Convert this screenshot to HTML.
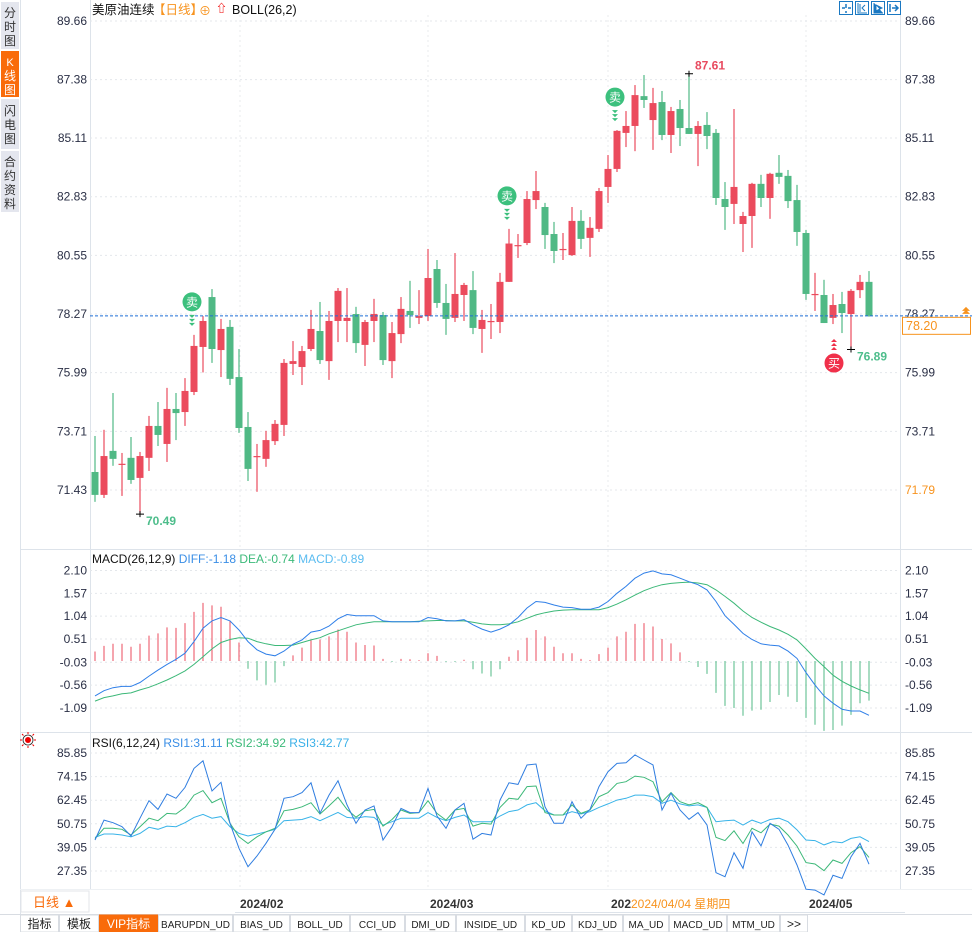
<!DOCTYPE html>
<html><head><meta charset="utf-8"><style>
html,body{margin:0;padding:0;background:#fff;}
body{width:972px;height:932px;overflow:hidden;position:relative;font-family:"Liberation Sans","Noto Sans CJK SC",sans-serif;}
svg{position:absolute;left:0;top:0;}
svg text{font-family:"Liberation Sans","Noto Sans CJK SC",sans-serif;}
</style></head><body>
<svg id="chart" width="972" height="932" viewBox="0 0 972 932">
<g id="frame">
 <rect x="0" y="0" width="20" height="932" fill="#fff"/>
 <line x1="20.5" y1="0" x2="20.5" y2="914" stroke="#dde3ea"/>
 <line x1="90.5" y1="0" x2="90.5" y2="890" stroke="#dde3ea"/>
 <line x1="900.5" y1="0" x2="900.5" y2="890" stroke="#dde3ea"/>
 <line x1="20" y1="549.5" x2="972" y2="549.5" stroke="#dde3ea"/>
 <line x1="20" y1="732.5" x2="972" y2="732.5" stroke="#dde3ea"/>
 <line x1="20" y1="889.5" x2="972" y2="889.5" stroke="#eef1f4"/>
 <line x1="235" y1="912.5" x2="905" y2="912.5" stroke="#dde3ea"/>
</g>
<g id="sidebar">
 <rect x="1" y="2" width="18" height="47" fill="#e4e6ee"/>
 <text x="10" y="17" font-size="12" fill="#333" text-anchor="middle">分</text>
 <text x="10" y="31" font-size="12" fill="#333" text-anchor="middle">时</text>
 <text x="10" y="45" font-size="12" fill="#333" text-anchor="middle">图</text>
 <rect x="1" y="51" width="18" height="46" fill="#f96b0a"/>
 <text x="10" y="66" font-size="11" fill="#fff" text-anchor="middle">K</text>
 <text x="10" y="80" font-size="12" fill="#fff" text-anchor="middle">线</text>
 <text x="10" y="94" font-size="12" fill="#fff" text-anchor="middle">图</text>
 <rect x="1" y="99" width="18" height="50" fill="#e4e6ee"/>
 <text x="10" y="115" font-size="12" fill="#333" text-anchor="middle">闪</text>
 <text x="10" y="129" font-size="12" fill="#333" text-anchor="middle">电</text>
 <text x="10" y="143" font-size="12" fill="#333" text-anchor="middle">图</text>
 <rect x="1" y="151" width="18" height="61" fill="#e4e6ee"/>
 <text x="10" y="166" font-size="12" fill="#333" text-anchor="middle">合</text>
 <text x="10" y="180" font-size="12" fill="#333" text-anchor="middle">约</text>
 <text x="10" y="194" font-size="12" fill="#333" text-anchor="middle">资</text>
 <text x="10" y="208" font-size="12" fill="#333" text-anchor="middle">料</text>
</g>
<g id="header">
 <text x="92" y="14" font-size="12.5" fill="#111">美原油连续</text>
 <text x="153" y="14" font-size="12.5" fill="#f7931e">【日线】</text>
 <text x="199" y="15" font-size="12" fill="#f7931e">⊕</text>
 <text x="216" y="12" font-size="11" fill="#e00" font-weight="bold">⇧</text>
 <text x="232" y="14" font-size="12.5" fill="#111">BOLL(26,2)</text>
</g>
<g id="toolbar">
 <rect x="839.5" y="1.5" width="13" height="13" fill="none" stroke="#1a78c2"/>
 <path d="M846 4v4M846 11v2M842 8h3M848 8h3" stroke="#1a78c2" stroke-width="1.5"/>
 <rect x="855.5" y="1.5" width="13" height="13" fill="none" stroke="#1a78c2"/>
 <path d="M858 3v10h9M860 4v8M865 5l-3 3 3 3" stroke="#1a78c2" fill="none"/>
 <rect x="871.5" y="1.5" width="13" height="13" fill="none" stroke="#1a78c2"/>
 <path d="M874 3v10h9M876 5l6 3-6 3z" stroke="#1a78c2" fill="#1a78c2"/>
 <rect x="887.5" y="1.5" width="13" height="13" fill="none" stroke="#1a78c2"/>
 <path d="M890 4v8M892 8h5M895 5l3 3-3 3" stroke="#1a78c2" fill="none" stroke-width="1.5"/>
</g>
<g id="grid"></g>
<g id="axes"></g>
<g id="candles"></g>
<g id="annot"></g>
<g id="macd"></g>
<g id="rsi"></g>
<g id="labels">
 <text x="92" y="563" font-size="12"><tspan fill="#111">MACD(26,12,9) </tspan><tspan fill="#3a8ee6">DIFF:-1.18 </tspan><tspan fill="#3cba7a"> DEA:-0.74 </tspan><tspan fill="#5bbcf0"> MACD:-0.89</tspan></text>
 <text x="92" y="747" font-size="12"><tspan fill="#111">RSI(6,12,24) </tspan><tspan fill="#3a8ee6">RSI1:31.11 </tspan><tspan fill="#3cba7a"> RSI2:34.92 </tspan><tspan fill="#3ab0e8"> RSI3:42.77</tspan></text>
 <g>
  <circle cx="28" cy="740" r="3" fill="#e00"/>
  <circle cx="28" cy="740" r="5" fill="none" stroke="#222" stroke-width="0.8"/>
  <path d="M28 732v2M28 746v2M20 740h2M34 740h2M22 734l1.5 1.5M34 734l-1.5 1.5M22 746l1.5-1.5M34 746l-1.5-1.5" stroke="#e00"/>
 </g>
</g>
<g id="dates">
 <text x="240" y="908" font-size="12" font-weight="bold" fill="#333">2024/02</text>
 <text x="430" y="908" font-size="12" font-weight="bold" fill="#333">2024/03</text>
 <text x="611" y="908" font-size="12" font-weight="bold" fill="#333">202</text>
 <text x="631" y="908" font-size="12" fill="#f7931e">2024/04/04 星期四</text>
 <text x="809" y="908" font-size="12" font-weight="bold" fill="#333">2024/05</text>
 <rect x="21" y="891" width="68" height="21" fill="#fff" stroke="#e3e6ea"/>
 <text x="33" y="907" font-size="13" fill="#f96b0a">日线 ▲</text>
</g>
<g id="tabs"></g>
</svg>
<script>
// ---------- price data ----------
const opens=[72.13,71.24,72.95,72.45,72.68,71.9,72.68,73.92,73.22,74.58,74.46,75.24,76.99,78.93,76.87,77.77,75.82,73.88,72.75,72.64,73.33,73.96,76.33,76.21,76.91,77.61,76.44,78.0,78.0,78.27,77.07,78.0,78.23,76.44,77.49,78.39,78.12,78.19,80.02,78.7,78.12,79.01,79.2,77.69,78.0,77.96,79.52,80.95,81.03,82.7,82.43,81.38,80.8,80.56,81.89,81.23,81.58,83.21,83.91,85.31,85.58,86.74,85.81,86.51,85.23,86.24,85.5,85.27,85.62,85.31,82.74,82.55,81.77,82.08,83.33,82.78,83.76,83.64,82.7,81.42,79.05,79.01,78.12,78.66,78.27,79.2,79.52];
const closes=[71.24,72.75,72.64,72.45,71.82,72.75,73.92,73.57,74.58,74.42,75.28,77.03,78.0,76.91,77.69,75.75,73.84,72.25,72.75,73.37,74.0,76.37,76.44,76.83,77.69,76.48,78.0,79.17,78.12,77.14,77.96,78.27,76.48,77.53,78.47,78.23,78.19,79.67,78.7,78.08,79.05,79.4,77.73,78.04,78.0,79.52,81.01,80.95,82.74,83.05,81.34,80.72,80.8,81.89,81.19,81.62,83.05,83.91,85.39,85.58,86.78,86.59,86.47,85.23,86.16,85.5,85.27,85.58,85.19,82.78,82.43,83.21,82.08,83.33,82.78,83.72,83.6,82.66,81.46,79.05,79.05,77.92,78.62,78.31,79.17,79.52,78.2];
const highs=[73.53,73.77,75.2,72.87,73.49,72.91,74.31,74.85,75.4,75.2,75.78,77.46,78.19,79.24,78.08,78.04,76.91,74.46,73.22,73.73,74.15,76.52,77.22,77.03,78.43,78.74,78.39,79.28,79.28,78.55,78.04,78.86,78.35,77.96,78.93,79.56,79.2,80.8,80.37,79.44,80.64,79.48,79.94,78.43,78.66,79.87,81.58,81.38,83.05,83.83,82.59,81.85,81.42,82.43,82.31,82.04,83.17,84.45,85.42,86.16,87.17,87.56,87.06,86.94,86.32,86.59,87.61,85.77,86.12,85.46,83.4,86.24,82.24,83.37,83.68,83.76,84.45,83.87,83.29,81.54,79.87,79.6,79.05,79.13,79.24,79.79,79.94];
const lows=[70.97,71.12,72.37,71.2,71.67,70.49,72.17,73.14,72.52,73.37,73.92,75.12,76.0,76.37,75.82,75.51,73.65,71.78,71.36,72.33,73.18,73.53,75.9,75.51,76.83,76.33,75.71,77.18,77.18,76.76,76.25,77.18,76.29,75.78,77.14,77.73,77.88,78.0,78.51,77.46,77.96,78.0,77.49,76.76,77.3,77.53,79.52,80.45,80.95,82.35,80.8,80.25,80.37,80.53,80.8,80.49,81.46,82.59,83.79,84.76,84.6,86.28,84.65,85.03,84.53,84.8,85.27,84.02,84.68,82.51,81.54,81.77,80.68,80.84,82.43,81.97,83.33,82.39,80.92,78.82,78.39,77.92,77.88,77.53,76.89,78.89,78.16];
const priceTicks=["89.66","87.38","85.11","82.83","80.55","78.27","75.99","73.71","71.43"];
const lastPrice=78.20;
const sellSignals=[11,46,58];
const buySignals=[82];
// ---------- MACD data ----------
const diffVals=[-0.81,-0.69,-0.62,-0.59,-0.59,-0.50,-0.35,-0.21,-0.08,0.04,0.18,0.45,0.76,0.93,1.01,0.93,0.72,0.45,0.26,0.16,0.12,0.23,0.39,0.49,0.67,0.71,0.81,0.98,1.08,1.05,1.05,1.05,0.93,0.91,0.91,0.91,0.91,1.01,0.98,0.93,0.93,0.96,0.84,0.74,0.67,0.74,0.84,1.01,1.23,1.38,1.36,1.30,1.25,1.24,1.20,1.20,1.25,1.38,1.57,1.73,1.92,2.04,2.09,2.02,2.00,1.92,1.84,1.77,1.65,1.38,1.05,0.85,0.64,0.50,0.40,0.37,0.35,0.23,0.06,-0.27,-0.56,-0.81,-0.98,-1.12,-1.16,-1.16,-1.26];
const deaVals=[-0.93,-0.85,-0.81,-0.76,-0.74,-0.67,-0.61,-0.53,-0.44,-0.34,-0.23,-0.08,0.10,0.28,0.43,0.50,0.54,0.53,0.45,0.40,0.36,0.36,0.37,0.43,0.49,0.54,0.63,0.70,0.77,0.84,0.88,0.91,0.91,0.91,0.91,0.91,0.92,0.93,0.94,0.94,0.93,0.93,0.90,0.86,0.84,0.84,0.86,0.91,0.99,1.07,1.12,1.16,1.18,1.19,1.19,1.19,1.19,1.24,1.32,1.42,1.53,1.63,1.71,1.77,1.80,1.82,1.83,1.81,1.77,1.65,1.50,1.34,1.16,1.01,0.90,0.80,0.72,0.62,0.49,0.28,0.06,-0.13,-0.33,-0.47,-0.58,-0.67,-0.75];
const histVals=[0.22,0.35,0.40,0.40,0.33,0.40,0.59,0.64,0.78,0.77,0.88,1.14,1.35,1.29,1.26,0.94,0.43,-0.18,-0.45,-0.55,-0.50,-0.12,0.13,0.31,0.48,0.50,0.57,0.73,0.68,0.43,0.37,0.36,0.05,-0.02,0.05,0.04,0.02,0.18,0.12,-0.02,-0.02,0.03,-0.19,-0.29,-0.36,-0.19,0.10,0.25,0.54,0.72,0.57,0.33,0.18,0.18,0.05,0.02,0.16,0.31,0.57,0.68,0.86,0.88,0.80,0.51,0.41,0.20,-0.02,-0.14,-0.30,-0.74,-1.04,-1.09,-1.27,-1.15,-1.13,-0.95,-0.79,-0.83,-0.95,-1.32,-1.48,-1.62,-1.60,-1.50,-1.25,-0.98,-0.92];
const macdTicks=["2.10","1.57","1.04","0.51","-0.03","-0.56","-1.09"];
// ---------- RSI data ----------
const rsi1Vals=[42.7,52.6,51.3,49.3,44.7,53.5,62.2,57.9,65.5,63.4,68.8,78.2,82.0,67.0,71.3,51.0,38.6,29.5,34.8,41.1,48.0,63.4,64.2,66.2,71.1,56.0,65.0,72.1,60.1,51.0,57.6,59.6,42.7,49.3,58.4,56.3,56.3,68.3,54.6,48.5,57.6,60.9,43.1,46.0,45.2,62.5,71.1,70.3,79.9,80.4,59.2,51.0,51.0,61.7,53.5,57.9,69.2,76.6,80.7,81.0,84.9,82.4,79.9,57.6,65.9,57.6,53.0,56.3,50.2,26.5,24.5,36.4,28.7,46.8,39.8,51.0,48.0,40.2,30.3,18.3,17.9,15.5,25.2,23.7,34.4,41.1,30.7];
const rsi2Vals=[43.5,48.5,48.5,48.0,45.2,49.3,53.5,52.3,55.9,55.6,58.9,65.0,67.2,61.2,63.4,51.0,44.3,41.0,44.3,46.8,48.5,57.2,57.9,59.2,61.2,55.6,59.6,63.9,57.9,54.0,57.2,57.9,49.6,52.9,57.6,55.9,56.3,62.2,55.9,52.6,57.6,58.4,49.6,51.0,50.6,58.9,63.4,62.9,69.2,69.5,56.3,55.1,55.1,60.1,55.9,57.6,64.2,66.2,70.8,71.6,74.4,73.8,71.6,61.7,66.2,61.7,60.1,61.2,58.9,44.0,42.4,47.3,41.0,48.5,46.3,50.6,49.6,45.2,39.7,31.5,30.8,27.5,32.8,31.1,36.4,39.4,34.1];
const rsi3Vals=[44.0,45.7,45.7,45.2,44.3,46.0,49.0,48.0,49.6,49.3,51.3,53.9,55.4,53.5,54.3,49.3,46.0,44.7,45.7,46.8,48.0,52.3,52.6,52.9,54.3,52.3,54.3,56.4,53.9,53.5,54.3,53.9,50.1,51.8,53.5,53.5,53.5,56.3,53.9,52.3,53.9,55.1,51.8,51.8,51.8,54.6,56.8,57.6,60.1,61.2,57.2,55.1,55.1,56.8,55.6,56.8,58.9,60.6,62.5,63.4,65.0,65.0,64.2,60.9,62.5,60.6,59.6,60.1,58.9,51.8,52.3,52.6,50.1,52.6,51.0,52.9,53.5,51.8,47.7,42.7,42.4,40.3,41.9,41.4,43.5,44.3,41.9];
const rsiTicks=["85.85","74.15","62.45","50.75","39.05","27.35"];
const tabNames=["指标","模板","VIP指标","BARUPDN_UD","BIAS_UD","BOLL_UD","CCI_UD","DMI_UD","INSIDE_UD","KD_UD","KDJ_UD","MA_UD","MACD_UD","MTM_UD",">>"];

// ---------- scales ----------
const NS="http://www.w3.org/2000/svg";
function mk(tag,attrs,parent){const e=document.createElementNS(NS,tag);for(const k in attrs)e.setAttribute(k,attrs[k]);parent.appendChild(e);return e;}
const xAt=i=>95+i*9;
const yPrice=p=>21+(89.66-p)*(469/18.23);
const yMacd=v=>661-v*43.1;
const yRsi=v=>753+(85.85-v)*2.017;
const RED="#eb4b5d",GREEN="#50b985";

const grid=document.getElementById('grid');
const axes=document.getElementById('axes');
function hline(y,tick,skipRight){
  const l=mk('line',{x1:90,y1:y,x2:900,y2:y,stroke:'#e4e7eb','stroke-dasharray':'2,3'},grid);
  
  
  const t1=mk('text',{x:87,y:y+4,'font-size':12,fill:'#2a2f45','text-anchor':'end'},axes);
  t1.textContent=tick;
  
  
  if(skipRight)return;
  const t2=mk('text',{x:905,y:y+4,'font-size':12,fill:'#2a2f45'},axes);
  t2.textContent=tick;
  
  
}
priceTicks.forEach((t,i)=>hline(yPrice(parseFloat(t)),t,i===priceTicks.length-1));
macdTicks.forEach(t=>hline(yMacd(parseFloat(t)),t,false));
rsiTicks.forEach(t=>hline(yRsi(parseFloat(t)),t,false));
[240,428,608,806].forEach(x=>{
  const v=mk('line',{x1:x,y1:15,x2:x,y2:890,stroke:'#e8ebee','stroke-dasharray':'2,3'},grid);
  
  
});
const ol=mk('text',{x:905,y:494,'font-size':12,fill:'#f7931e'},axes);
ol.textContent="71.79";



// ---------- candles ----------
const cg=document.getElementById('candles');
opens.forEach((o,i)=>{
  const c=closes[i],x=xAt(i),up=c>=o,col=up?RED:GREEN;
  const g=mk('g',{},cg);
  
  
  mk('line',{x1:x,y1:yPrice(highs[i]),x2:x,y2:yPrice(lows[i]),stroke:col,'stroke-width':1.2},g);
  const top=yPrice(Math.max(o,c)),bot=yPrice(Math.min(o,c));
  mk('rect',{x:x-3.5,y:top,width:7,height:Math.max(1.2,bot-top),fill:col},g);
});
const an=document.getElementById('annot');
const ly=yPrice(lastPrice);
const lpl=mk('line',{x1:90,y1:ly,x2:972,y2:ly,stroke:'#1f6fd6','stroke-dasharray':'3,2'},an);


const lpb=mk('rect',{x:902.5,y:ly+1.5,width:68,height:17,fill:'#fff',stroke:'#f7931e'},an);


const lpt=mk('text',{x:906,y:ly+14,'font-size':12.5,fill:'#f7931e'},an);
lpt.textContent=lastPrice.toFixed(2);


mk('path',{d:`M962 ${ly-2}l4-4 4 4zM962 ${ly-5}l4-4 4 4z`,fill:'#f7931e'},an);
function extreme(idx,val,isHigh,col){
  const x=xAt(idx),y=yPrice(val);
  mk('path',{d:`M${x-4} ${y}h8M${x} ${y-3}v6`,stroke:'#000'},an);
  const t=mk('text',{x:x+6,y:isHigh?y-4:y+11,'font-size':12,'font-weight':'bold',fill:col},an);
  t.textContent=val.toFixed(2);
  
  
}
let hi=0,lo=0;highs.forEach((h,i)=>{if(h>highs[hi])hi=i;});lows.forEach((l,i)=>{if(l<lows[lo])lo=i;});
extreme(hi,highs[hi],true,'#e84a5f');
extreme(lo,lows[lo],false,'#4dbd8b');
extreme(84,lows[84],false,'#4dbd8b');
sellSignals.forEach(i=>{
  const x=xAt(i)-2,y=yPrice(highs[i])-33;
  const g=mk('g',{},an);
  
  
  mk('circle',{cx:x,cy:y,r:9.5,fill:'#3cc07d'},g);
  const t=mk('text',{x:x,y:y+4.5,'font-size':12,fill:'#fff','text-anchor':'middle'},g);t.textContent='卖';
  [13,17,21].forEach(d=>mk('path',{d:`M${x-3} ${y+d}h6l-3 3z`,fill:'#3cc07d'},g));
});
buySignals.forEach(i=>{
  const x=xAt(i)+1,y=yPrice(lows[i])+39;
  const g=mk('g',{},an);
  
  
  mk('circle',{cx:x,cy:y,r:9.5,fill:'#f0304a'},g);
  const t=mk('text',{x:x,y:y+4.5,'font-size':12,fill:'#fff','text-anchor':'middle'},g);t.textContent='买';
  [13,17,21].forEach(d=>mk('path',{d:`M${x-3} ${y-d}h6l-3 -3z`,fill:'#f0304a'},g));
});

// ---------- MACD ----------
const mg=document.getElementById('macd');
histVals.forEach((v,i)=>{
  const b=mk('line',{x1:xAt(i),x2:xAt(i),y1:yMacd(0),y2:yMacd(v),stroke:v>=0?RED:GREEN,'stroke-width':1},mg);
  
  
});
function poly(vals,fy,col,parent,name){
  const p=mk('polyline',{points:vals.map((v,i)=>xAt(i)+','+fy(v).toFixed(1)).join(' '),fill:'none',stroke:col,'stroke-width':1},parent);
  
  
}
poly(deaVals,yMacd,'#3cb878',mg,'dea-line');
poly(diffVals,yMacd,'#2f7fe8',mg,'diff-line');
const rg=document.getElementById('rsi');
poly(rsi3Vals,yRsi,'#38b3e8',rg,'rsi3-line');
poly(rsi2Vals,yRsi,'#3cb878',rg,'rsi2-line');
poly(rsi1Vals,yRsi,'#2f7de0',rg,'rsi1-line');

// ---------- bottom tabs ----------
const tg=document.getElementById('tabs');
const edges=[20,59,99,158,233,290,350,405,456,525,572,623,669,727,780,808];
mk('rect',{x:0,y:914,width:972,height:18,fill:'#fff'},tg);
mk('line',{x1:0,y1:914.5,x2:972,y2:914.5,stroke:'#d8dce2'},tg);
tabNames.forEach((n,i)=>{
  const x0=edges[i],x1=edges[i+1],vip=(i===2);
  const r=mk('rect',{x:x0+0.5,y:915,width:x1-x0-1,height:17,fill:vip?'#f96b0a':'#fff',stroke:vip?'#f96b0a':'#d8dce2'},tg);
  
  
  const mono=i>=3&&i<14;
  const t=mk('text',{x:(x0+x1)/2,y:928,'font-size':mono?10:12,fill:vip?'#fff':'#222','text-anchor':'middle','font-family':mono?'"Liberation Mono",monospace':'"Liberation Sans","Noto Sans CJK SC",sans-serif'},tg);
  t.textContent=n;
  
  
});
</script>
</body></html>
